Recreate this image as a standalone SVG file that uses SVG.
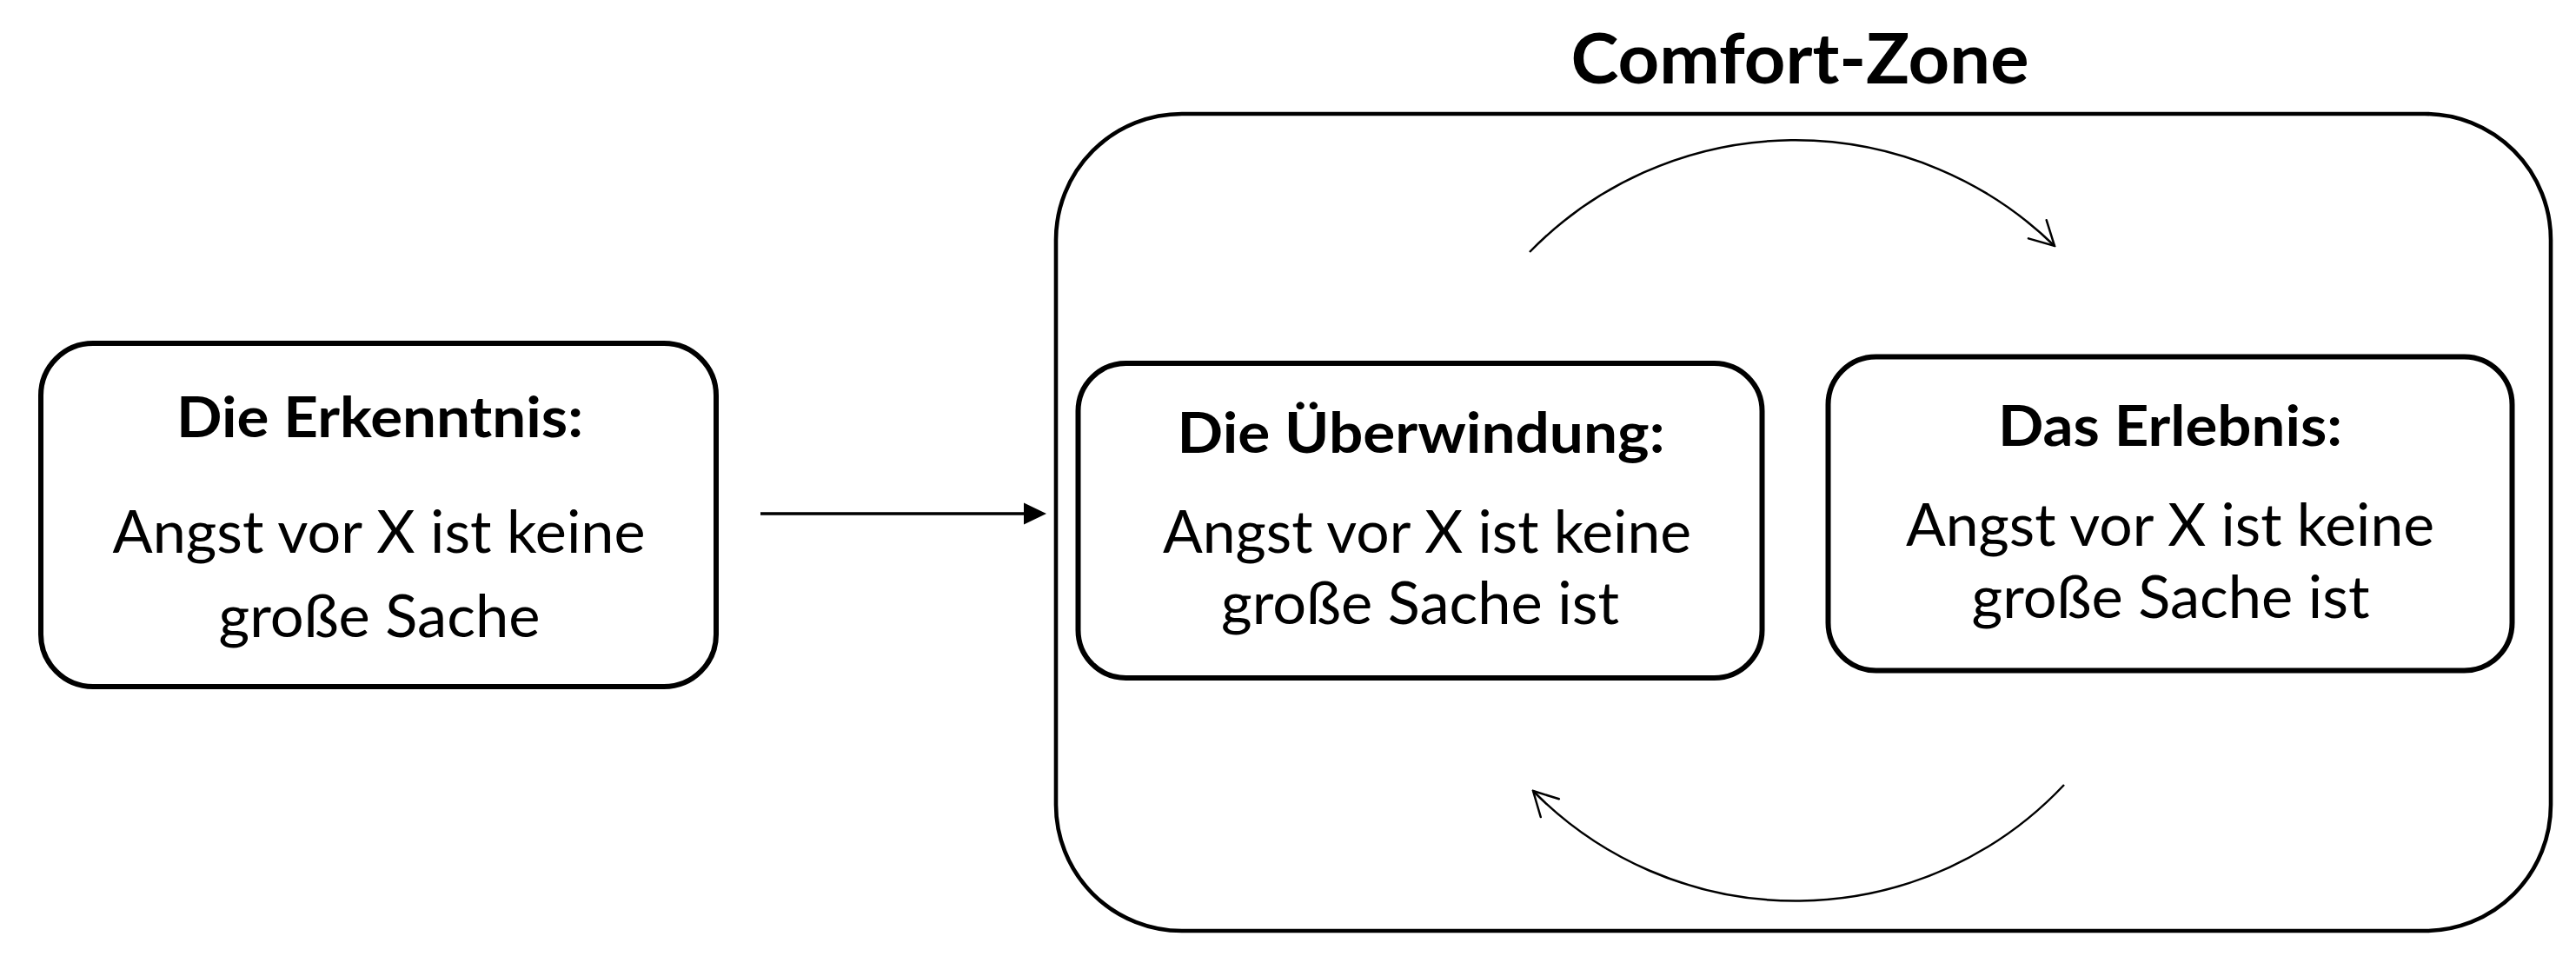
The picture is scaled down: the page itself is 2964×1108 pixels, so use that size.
<svg xmlns="http://www.w3.org/2000/svg" width="2964" height="1108" viewBox="0 0 2964 1108">
<style>
.box{fill:#fff;stroke:#000;stroke-width:6}
.outer{fill:#fff;stroke:#000;stroke-width:4.6}
.title{font-family:Lato,"Open Sans","Liberation Sans",sans-serif;font-weight:bold;font-size:65px;fill:#000}
.body{font-family:Lato,"Open Sans","Liberation Sans",sans-serif;font-size:67px;fill:#000}
.head{font-family:Lato,"Open Sans","Liberation Sans",sans-serif;font-weight:bold;font-size:80px;fill:#000}
.arc{fill:none;stroke:#000;stroke-width:2.5}
.straight{fill:none;stroke:#000;stroke-width:3.6}
</style>
<defs>
<marker id="open" markerUnits="userSpaceOnUse" viewBox="-30 -17 32 34" markerWidth="32" markerHeight="34" refX="0" refY="0" orient="auto">
<path d="M-27.5,-14.8 L0,0 L-27.5,14.8" fill="none" stroke="#000" stroke-width="2.5" stroke-linecap="round" stroke-linejoin="miter"/>
</marker>
<marker id="solid" markerUnits="userSpaceOnUse" viewBox="0 -13 27 26" markerWidth="27" markerHeight="26" refX="4" refY="0" orient="auto">
<path d="M0,-12.5 L26,0 L0,12.5 Z" fill="#000"/>
</marker>
</defs>
<rect width="2964" height="1108" fill="#fff"/>
<g id="comfort-zone">
<rect class="outer" x="1215" y="131" width="1720" height="940" rx="145" ry="145"/>
<text class="head" x="2071" y="96" text-anchor="middle" textLength="527" lengthAdjust="spacingAndGlyphs">Comfort-Zone</text>
</g>
<g id="erkenntnis">
<rect class="box" x="47" y="395" width="777" height="395" rx="60" ry="60"/>
<text class="title" x="437" y="503" text-anchor="middle" textLength="468" lengthAdjust="spacingAndGlyphs">Die Erkenntnis:</text>
<text class="body" x="436" y="636" text-anchor="middle" textLength="613" lengthAdjust="spacingAndGlyphs">Angst vor X ist keine</text>
<text class="body" x="436.5" y="733" text-anchor="middle" textLength="370" lengthAdjust="spacingAndGlyphs">große Sache</text>
</g>
<g id="ueberwindung">
<rect class="box" x="1240.5" y="418" width="787" height="362" rx="55" ry="55"/>
<text class="title" x="1635" y="521" text-anchor="middle" textLength="561" lengthAdjust="spacingAndGlyphs">Die Überwindung:</text>
<text class="body" x="1642" y="636" text-anchor="middle" textLength="608" lengthAdjust="spacingAndGlyphs">Angst vor X ist keine</text>
<text class="body" x="1634" y="718" text-anchor="middle" textLength="458" lengthAdjust="spacingAndGlyphs">große Sache ist</text>
</g>
<g id="erlebnis">
<rect class="box" x="2103.5" y="410.5" width="787" height="361" rx="55" ry="55"/>
<text class="title" x="2497" y="513" text-anchor="middle" textLength="396" lengthAdjust="spacingAndGlyphs">Das Erlebnis:</text>
<text class="body" x="2497" y="628" text-anchor="middle" textLength="608" lengthAdjust="spacingAndGlyphs">Angst vor X ist keine</text>
<text class="body" x="2497.5" y="711" text-anchor="middle" textLength="458" lengthAdjust="spacingAndGlyphs">große Sache ist</text>
</g>
<g id="connectors">
<line class="straight" x1="875" y1="591" x2="1182" y2="591" marker-end="url(#solid)"/>
<path class="arc" d="M1760,290 A427,427 0 0 1 2364,283" marker-end="url(#open)"/>
<path class="arc" d="M2375,903 A424,424 0 0 1 1764,910" marker-end="url(#open)"/>
</g>
</svg>
